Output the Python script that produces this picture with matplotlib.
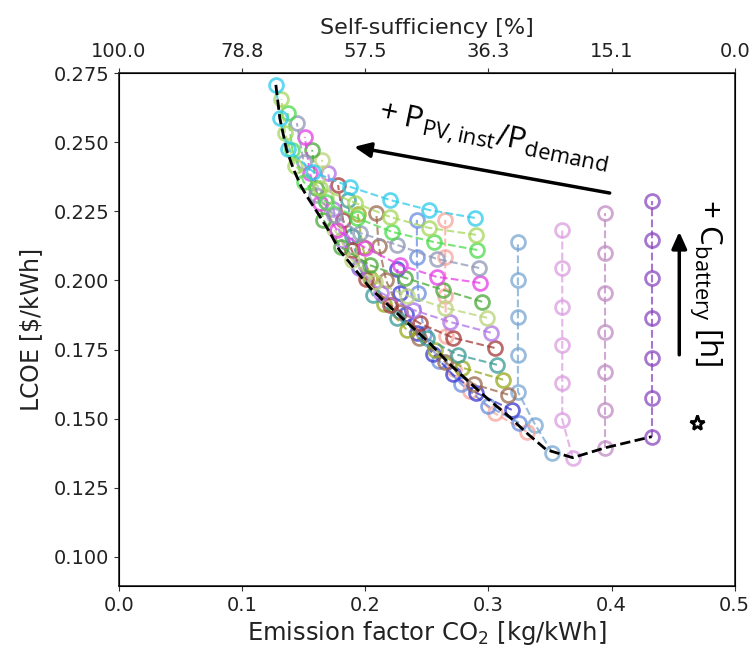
import matplotlib
matplotlib.use("Agg")
import matplotlib.pyplot as plt

plt.rcParams['mathtext.default'] = 'regular'

# ---- data ----
series_colors = ['#2ccbec', '#a6d85b', '#4cdc4c', '#8f97b8', '#e63ee6', '#4aa83a',
                 '#bcd47a', '#b072e8', '#a63a3a', '#3a9a96', '#98a81e', '#9a6a4e',
                 '#3a3ad0', '#6a8ee0', '#f7a59a', '#79a6d2', '#dc9ee0', '#c08cc4',
                 '#8a48c0']

series_x = [
    [0.289, 0.2516, 0.220, 0.188, 0.158, 0.137, 0.1307, 0.1275],
    [0.290, 0.2516, 0.220, 0.192, 0.163, 0.143, 0.135, 0.132],
    [0.291, 0.2557, 0.2216, 0.193, 0.168, 0.150, 0.141, 0.137],
    [0.2925, 0.258, 0.2256, 0.1956, 0.175, 0.160, 0.150, 0.1445],
    [0.2935, 0.258, 0.228, 0.200, 0.177, 0.163, 0.155, 0.151],
    [0.295, 0.263, 0.232, 0.204, 0.180, 0.166, 0.160, 0.157],
    [0.299, 0.2646, 0.234, 0.208, 0.189, 0.175, 0.168, 0.165],
    [0.302, 0.2687, 0.2386, 0.213, 0.195, 0.181, 0.174, 0.170],
    [0.305, 0.271, 0.2443, 0.220, 0.201, 0.189, 0.182, 0.178],
    [0.307, 0.2752, 0.250, 0.2256, 0.206, 0.195, 0.189, 0.186],
    [0.312, 0.279, 0.2565, 0.2338, 0.215, 0.204, 0.198, 0.194],
    [0.316, 0.288, 0.2646, 0.244, 0.228, 0.217, 0.211, 0.209],
    [0.319, 0.290, 0.271, 0.255, 0.242, 0.233, 0.228, 0.226],
    [0.325, 0.300, 0.278, 0.260, 0.248, 0.243, 0.242, 0.242],
    [0.331, 0.305, 0.285, 0.272, 0.266, 0.265, 0.265, 0.265],
    [0.352, 0.338, 0.324, 0.324, 0.324, 0.324, 0.324],
    [0.3685, 0.360, 0.360, 0.360, 0.360, 0.360, 0.360],
    [0.395, 0.395, 0.395, 0.395, 0.395, 0.395, 0.395],
    [0.4326, 0.4326, 0.4326, 0.4326, 0.4326, 0.4326, 0.4326],
]
series_y = [
    [0.2226, 0.2255, 0.2291, 0.2338, 0.2392, 0.2475, 0.2587, 0.2707],
    [0.2165, 0.219, 0.223, 0.228, 0.2335, 0.2415, 0.2533, 0.2656],
    [0.2110, 0.2139, 0.2176, 0.2226, 0.2285, 0.2356, 0.247, 0.2605],
    [0.2045, 0.2078, 0.2129, 0.2172, 0.2235, 0.231, 0.243, 0.2569],
    [0.1991, 0.2013, 0.2056, 0.2118, 0.2183, 0.228, 0.239, 0.2519],
    [0.1923, 0.1966, 0.201, 0.2055, 0.2121, 0.222, 0.2335, 0.2472],
    [0.1865, 0.1901, 0.1945, 0.1995, 0.2075, 0.2185, 0.230, 0.2436],
    [0.1811, 0.185, 0.1894, 0.1955, 0.2045, 0.2145, 0.226, 0.2389],
    [0.1756, 0.1793, 0.1845, 0.1912, 0.2005, 0.211, 0.222, 0.2345],
    [0.1695, 0.1731, 0.179, 0.1865, 0.1948, 0.205, 0.216, 0.229],
    [0.1641, 0.1684, 0.1749, 0.1821, 0.1915, 0.201, 0.212, 0.224],
    [0.1587, 0.1625, 0.1706, 0.179, 0.1885, 0.200, 0.2125, 0.2244],
    [0.1532, 0.1594, 0.166, 0.1735, 0.181, 0.188, 0.1955, 0.204],
    [0.1485, 0.1545, 0.1625, 0.171, 0.1805, 0.1955, 0.2085, 0.2219],
    [0.1453, 0.152, 0.160, 0.168, 0.180, 0.1945, 0.2085, 0.2219],
    [0.1377, 0.1478, 0.1597, 0.1731, 0.1868, 0.2002, 0.2139],
    [0.1359, 0.1496, 0.1630, 0.1767, 0.1905, 0.2045, 0.2183],
    [0.1395, 0.1532, 0.1670, 0.1814, 0.1955, 0.2100, 0.2244],
    [0.1435, 0.1576, 0.1720, 0.1865, 0.2009, 0.2147, 0.2288],
]

pareto_x = [0.1275, 0.1307, 0.136, 0.142, 0.148, 0.153, 0.162, 0.171, 0.179, 0.190,
            0.204, 0.220, 0.236, 0.252, 0.268, 0.285, 0.300, 0.317, 0.332, 0.347,
            0.3685, 0.395, 0.4326]
pareto_y = [0.2707, 0.2587, 0.2475, 0.240, 0.234, 0.2302, 0.224, 0.2176, 0.211, 0.205,
            0.1973, 0.1905, 0.184, 0.1775, 0.170, 0.163, 0.157, 0.1507, 0.1445, 0.1388,
            0.1359, 0.1395, 0.1435]

xticks = [0.0, 0.1, 0.2, 0.3, 0.4, 0.5]
yticks = [0.100, 0.125, 0.150, 0.175, 0.200, 0.225, 0.250, 0.275]
top_tick_labels = ['100.0', '78.8', '57.5', '36.3', '15.1', '0.0']

optimum_x, optimum_y = 0.469, 0.1485

# ---- figure ----
fig = plt.figure(figsize=(7.52, 6.53), dpi=100)
ax = fig.add_axes([0.158, 0.1026, 0.819, 0.7856])

n = len(series_x)
for i in range(n - 1, -1, -1):
    ax.plot(series_x[i], series_y[i], linestyle='--', linewidth=1.5,
            marker='o', markersize=10, markerfacecolor='none',
            markeredgewidth=2, color=series_colors[i], alpha=0.75)

ax.plot(pareto_x, pareto_y, linestyle='--', color='black', linewidth=2, zorder=10)

ax.plot([optimum_x], [optimum_y], marker='*', markersize=11, markerfacecolor='white',
        markeredgecolor='black', markeredgewidth=2, linestyle='none', zorder=11)

ax.set_xlim(0.0, 0.5)
ax.set_ylim(0.0895, 0.275)
ax.set_xticks(xticks)
ax.set_xticklabels([f'{v:.1f}' for v in xticks])
ax.set_yticks(yticks)
ax.set_yticklabels([f'{v:.3f}' for v in yticks])
ax.tick_params(labelsize=14, color='#333333', labelcolor='#222222')
ax.set_xlabel('Emission factor CO$_2$ [kg/kWh]', fontsize=17.5, color='#222222', labelpad=3)
ax.set_ylabel('LCOE [$\\$$/kWh]', fontsize=17, color='#222222', labelpad=6)
for s in ax.spines.values():
    s.set_linewidth(1.2)
    s.set_color('#222222')

ax2 = ax.twiny()
ax2.set_xlim(ax.get_xlim())
ax2.set_xticks(xticks)
ax2.set_xticklabels(top_tick_labels)
ax2.tick_params(labelsize=14, color='#333333', labelcolor='#222222', pad=5)
ax2.set_xlabel('Self-sufficiency [%]', fontsize=16, color='#222222', labelpad=6)

# ---- annotations ----
ax.annotate('', xy=(0.191, 0.2483), xytext=(0.3985, 0.2316),
            arrowprops=dict(arrowstyle='-|>,head_length=1.0,head_width=0.45',
                            color='black', lw=2.5, shrinkA=0, shrinkB=0))
ax.text(0.304, 0.2515, '+ $P_{PV,inst}/P_{demand}$', rotation=-11.5,
        ha='center', va='center', fontsize=22.5, family='Open Sans',
        rotation_mode='anchor')

ax.annotate('', xy=(0.455, 0.2176), xytext=(0.455, 0.1731),
            arrowprops=dict(arrowstyle='-|>,head_length=1.0,head_width=0.45',
                            color='black', lw=2.5, shrinkA=0, shrinkB=0))
ax.text(0.476, 0.1990, '+ $C_{battery}$ [h]', rotation=-90,
        ha='center', va='center', fontsize=22.5, family='Open Sans',
        rotation_mode='anchor')

fig.savefig('out.png', dpi=100)
